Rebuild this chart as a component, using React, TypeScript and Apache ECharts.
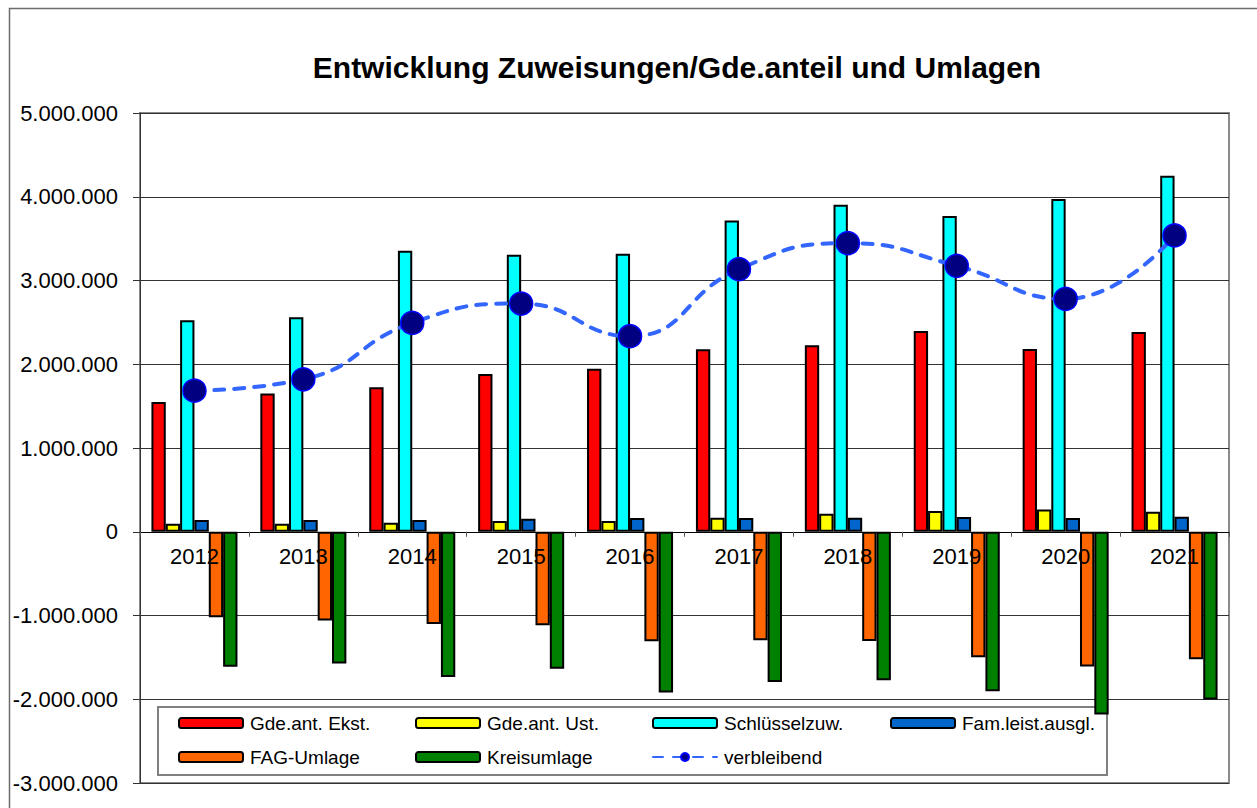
import React, { useEffect, useRef } from "react";
import * as echarts from "echarts";

const categories = ["2012", "2013", "2014", "2015", "2016", "2017", "2018", "2019", "2020", "2021"];
const gdeAntEkst = [1550000, 1650000, 1725000, 1885000, 1945000, 2180000, 2227000, 2398000, 2183000, 2386000];
const gdeAntUst = [96000, 96000, 108000, 127000, 127000, 167000, 215000, 247000, 267000, 239000];
const schluesselzuw = [2526000, 2562000, 3355000, 3307000, 3319000, 3717000, 3904000, 3769000, 3972000, 4251000];
const famLeistAusgl = [140000, 140000, 140000, 155000, 163000, 163000, 167000, 175000, 163000, 179000];
const fagUmlage = [-1020000, -1060000, -1100000, -1115000, -1307000, -1295000, -1303000, -1498000, -1610000, -1522000];
const kreisumlage = [-1613000, -1574000, -1733000, -1637000, -1920000, -1793000, -1773000, -1904000, -2183000, -2004000];
const verbleibend = [1685000, 1820000, 2494000, 2725000, 2335000, 3135000, 3446000, 3175000, 2780000, 3538000];

const barNames = ["Gde.ant. Ekst.", "Gde.ant. Ust.", "Schlüsselzuw.", "Fam.leist.ausgl.", "FAG-Umlage", "Kreisumlage"];
const barColors = ["#FF0000", "#FFFF00", "#00FFFF", "#0066CC", "#FF6600", "#008000"];
const barData = [gdeAntEkst, gdeAntUst, schluesselzuw, famLeistAusgl, fagUmlage, kreisumlage];
const lineName = "verbleibend";

const yMin = -3000000;
const yMax = 5000000;
const yStep = 1000000;

const FONT = "'Liberation Sans', Arial, sans-serif";

function fmt(v: number): string {
  const s = Math.abs(Math.round(v)).toString().replace(/\B(?=(\d{3})+(?!\d))/g, ".");
  return (v < 0 ? "-" : "") + s;
}

export default function App() {
  const ref = useRef<HTMLDivElement>(null);
  useEffect(() => {
    document.body.style.margin = "0";
    const chart = echarts.init(ref.current!, null, { renderer: "svg" });
    const gridTop = 113;
    const gridBottom = 25;
    const gridHeight = 808 - gridTop - gridBottom;
    // distance from grid bottom up to the zero value line
    const zeroOffset = (gridHeight * (0 - yMin)) / (yMax - yMin);

    const legendNames = [...barNames, lineName];
    const legendPos = [
      [178, 713], [415, 713], [652, 713], [890, 713],
      [178, 747], [415, 747], [652, 747],
    ];
    const legends = legendNames.map((n, i) => ({
      data: [n],
      left: legendPos[i][0],
      top: legendPos[i][1],
      padding: 0,
      itemWidth: 64,
      itemHeight: 10,
      itemGap: 0,
      selectedMode: false,
      textStyle: { fontSize: 19, color: "#000", fontFamily: FONT, lineHeight: 20, padding: [0, 0, 0, 2] },
    }));
    const series: any[] = barData.map((d, i) => ({
      name: barNames[i],
      type: "bar",
      data: d,
      barGap: "0%",
      barCategoryGap: "21%",
      z: 2,
      itemStyle: { color: barColors[i], borderColor: "#000", borderWidth: 2 },
    }));
    series.push({
      name: lineName,
      type: "line",
      data: verbleibend,
      smooth: 0.5,
      z: 4,
      symbol: "circle",
      symbolSize: 23,
      lineStyle: { color: "#3366FF", width: 4, type: [10, 10], cap: "round" },
      itemStyle: { color: "#000080", borderColor: "#0000FF", borderWidth: 1.5 },
    });
    chart.setOption({
      animation: false,
      backgroundColor: "#fff",
      textStyle: { fontFamily: FONT },
      graphic: [
        {
          type: "rect",
          shape: { x: 9.5, y: 8.5, width: 1300, height: 900 },
          style: { fill: "none", stroke: "#6b6b6b", lineWidth: 1.5 },
          z: 0,
        },
        {
          type: "text",
          x: 677,
          y: 67,
          style: {
            text: "Entwicklung Zuweisungen/Gde.anteil und Umlagen",
            font: "bold 30px " + FONT,
            fill: "#000",
            textAlign: "center",
            textVerticalAlign: "middle",
          },
        },
        {
          type: "rect",
          shape: { x: 158, y: 707, width: 949, height: 68 },
          style: { fill: "#fff", stroke: "#808080", lineWidth: 2 },
          z: 1,
        },
      ],
      legend: legends,
      grid: {
        left: 140,
        top: gridTop,
        right: 28,
        bottom: gridBottom,
        show: true,
        borderColor: "#8a8a8a",
        borderWidth: 2,
        containLabel: false,
        outerBoundsMode: "none",
      },
      xAxis: {
        type: "category",
        data: categories,
        z: 5,
        position: "bottom",
        offset: -zeroOffset,
        axisLine: { onZero: false, lineStyle: { color: "#000", width: 1 } },
        axisTick: { show: true, length: 5, lineStyle: { color: "#555" } },
        axisLabel: { fontSize: 22, color: "#000", margin: 14, fontFamily: FONT },
        splitLine: { show: false },
      },
      yAxis: {
        type: "value",
        min: yMin,
        max: yMax,
        interval: yStep,
        axisLine: { show: true, lineStyle: { color: "#333", width: 1 } },
        axisTick: { show: true, length: 7, lineStyle: { color: "#333" } },
        axisLabel: { fontSize: 22, color: "#000", margin: 22, formatter: (v: number) => fmt(v), fontFamily: FONT },
        splitLine: { show: true, lineStyle: { color: "#333", width: 1 } },
      },
      series,
    });
    return () => chart.dispose();
  }, []);
  return <div ref={ref} style={{ position: "absolute", left: 0, top: 0, width: 1257, height: 808 }} />;
}
